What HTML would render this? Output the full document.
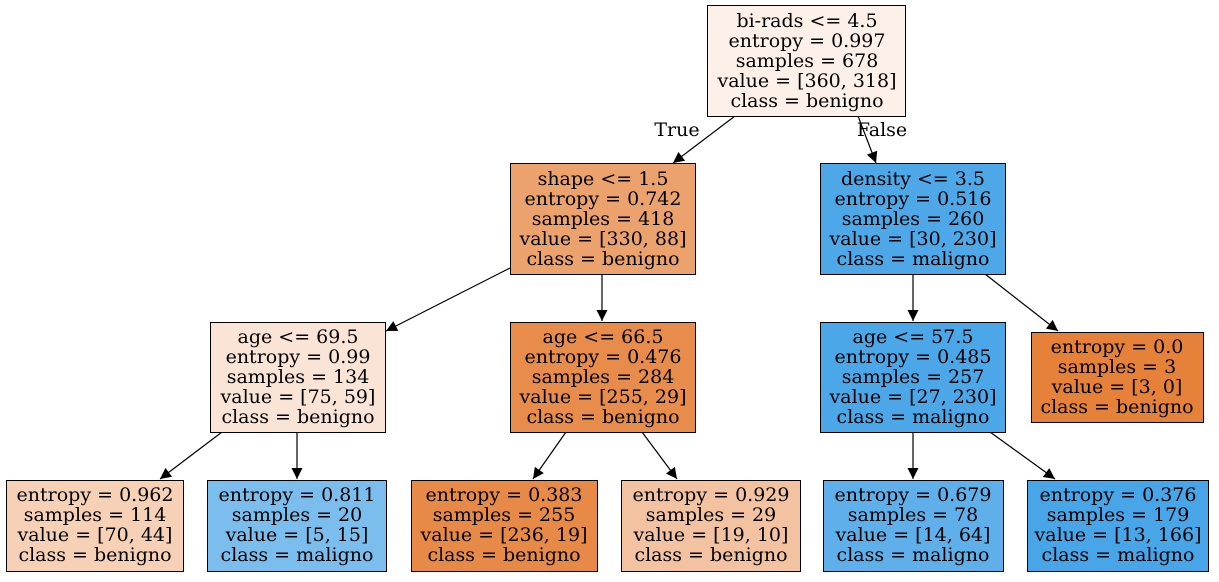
<!DOCTYPE html>
<html><head><meta charset="utf-8"><style>
html,body{margin:0;padding:0;background:#fff;}
text{font-family:"DejaVu Serif",serif;font-size:19px;fill:#000;}
</style></head><body>
<svg width="1219" height="577" viewBox="0 0 1219 577" xmlns="http://www.w3.org/2000/svg">
<defs><marker id="a" viewBox="0 0 10 10" refX="10" refY="5" markerWidth="12" markerHeight="11" markerUnits="userSpaceOnUse" orient="auto"><path d="M0,0 L10,5 L0,10 z" fill="#000"/></marker></defs>
<g stroke="#000" stroke-width="1.2" marker-end="url(#a)">
<line x1="735" y1="116" x2="673" y2="163"/>
<line x1="858" y1="116" x2="876" y2="163"/>
<line x1="510" y1="268" x2="386" y2="331"/>
<line x1="602" y1="274" x2="602" y2="321"/>
<line x1="913" y1="274" x2="913" y2="321"/>
<line x1="985" y1="274" x2="1058" y2="331"/>
<line x1="222" y1="432" x2="160" y2="479"/>
<line x1="297" y1="432" x2="297" y2="479"/>
<line x1="566" y1="432" x2="533" y2="479"/>
<line x1="642" y1="432" x2="677" y2="479"/>
<line x1="913" y1="432" x2="913" y2="479"/>
<line x1="990" y1="432" x2="1055" y2="479"/>
</g>
<text x="677" y="136" text-anchor="middle">True</text>
<text x="882" y="136" text-anchor="middle">False</text>
<g stroke="#000" stroke-width="1">
<rect x="707.5" y="5.5" width="198" height="111" fill="#fdf0e8"/>
<rect x="510.5" y="163.5" width="185" height="111" fill="#eca26d"/>
<rect x="820.5" y="163.5" width="185" height="111" fill="#4ea8e8"/>
<rect x="210.5" y="322.5" width="175" height="110" fill="#fae4d6"/>
<rect x="510.5" y="322.5" width="185" height="110" fill="#e78c4b"/>
<rect x="820.5" y="322.5" width="185" height="110" fill="#4ca7e8"/>
<rect x="1031.5" y="332.5" width="172" height="90" fill="#e58139"/>
<rect x="6.5" y="480.5" width="177" height="91" fill="#f6d1b5"/>
<rect x="207.5" y="480.5" width="179" height="91" fill="#7bbeee"/>
<rect x="411.5" y="480.5" width="186" height="91" fill="#e78a48"/>
<rect x="621.5" y="480.5" width="179" height="91" fill="#f3c3a1"/>
<rect x="823.5" y="480.5" width="180" height="91" fill="#5fb0ea"/>
<rect x="1027.5" y="480.5" width="181" height="91" fill="#48a5e7"/>
</g>
<g text-anchor="middle">
<text x="807" y="27">bi-rads &lt;= 4.5</text><text x="807" y="47">entropy = 0.997</text><text x="807" y="67">samples = 678</text><text x="807" y="87">value = [360, 318]</text><text x="807" y="107">class = benigno</text>
<text x="603" y="185">shape &lt;= 1.5</text><text x="603" y="205">entropy = 0.742</text><text x="603" y="225">samples = 418</text><text x="603" y="245">value = [330, 88]</text><text x="603" y="265">class = benigno</text>
<text x="913" y="185">density &lt;= 3.5</text><text x="913" y="205">entropy = 0.516</text><text x="913" y="225">samples = 260</text><text x="913" y="245">value = [30, 230]</text><text x="913" y="265">class = maligno</text>
<text x="298" y="343">age &lt;= 69.5</text><text x="298" y="363">entropy = 0.99</text><text x="298" y="383">samples = 134</text><text x="298" y="403">value = [75, 59]</text><text x="298" y="423">class = benigno</text>
<text x="603" y="343">age &lt;= 66.5</text><text x="603" y="363">entropy = 0.476</text><text x="603" y="383">samples = 284</text><text x="603" y="403">value = [255, 29]</text><text x="603" y="423">class = benigno</text>
<text x="913" y="343">age &lt;= 57.5</text><text x="913" y="363">entropy = 0.485</text><text x="913" y="383">samples = 257</text><text x="913" y="403">value = [27, 230]</text><text x="913" y="423">class = maligno</text>
<text x="1117" y="353">entropy = 0.0</text><text x="1117" y="373">samples = 3</text><text x="1117" y="393">value = [3, 0]</text><text x="1117" y="413">class = benigno</text>
<text x="95" y="501">entropy = 0.962</text><text x="95" y="521">samples = 114</text><text x="95" y="541">value = [70, 44]</text><text x="95" y="561">class = benigno</text>
<text x="297" y="501">entropy = 0.811</text><text x="297" y="521">samples = 20</text><text x="297" y="541">value = [5, 15]</text><text x="297" y="561">class = maligno</text>
<text x="504" y="501">entropy = 0.383</text><text x="504" y="521">samples = 255</text><text x="504" y="541">value = [236, 19]</text><text x="504" y="561">class = benigno</text>
<text x="711" y="501">entropy = 0.929</text><text x="711" y="521">samples = 29</text><text x="711" y="541">value = [19, 10]</text><text x="711" y="561">class = benigno</text>
<text x="913" y="501">entropy = 0.679</text><text x="913" y="521">samples = 78</text><text x="913" y="541">value = [14, 64]</text><text x="913" y="561">class = maligno</text>
<text x="1118" y="501">entropy = 0.376</text><text x="1118" y="521">samples = 179</text><text x="1118" y="541">value = [13, 166]</text><text x="1118" y="561">class = maligno</text>
</g>
</svg>
</body></html>
